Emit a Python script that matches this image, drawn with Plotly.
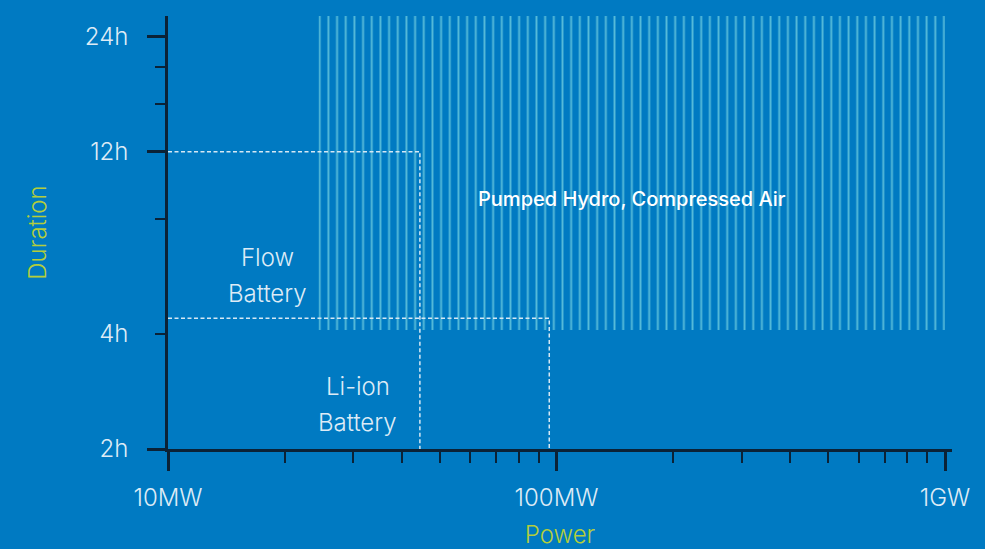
import plotly.graph_objects as go
import math

# ---- data ----
power_major_vals = [10, 100, 1000]
power_major_text = ["10MW", "100MW", "1GW"]
power_minor_vals = [20, 30, 40, 50, 60, 70, 80, 90, 200, 300, 400, 500, 600, 700, 800, 900]

dur_label_vals = [2, 4, 12, 24]
dur_label_text = ["2h", "4h", "12h", "24h"]
dur_long_vals = [2, 12, 24]
dur_minor_vals = [8, 16, 20]

# technology regions (power MW, duration h)
flow_power = [10, 44.5, 44.5]
flow_dur = [12, 12, 2]
liion_power = [10, 95.8, 95.8]
liion_dur = [4.4, 4.4, 2]
hydro_power = [24.4, 1000, 1000, 24.4, 24.4]
hydro_dur = [4.1, 4.1, 27.2, 27.2, 4.1]

labels = [
    ("Flow", 18, 6.36),
    ("Battery", 18, 5.12),
    ("Li-ion", 30.8, 2.92),
    ("Battery", 30.8, 2.34),
]
hydro_label = ("Pumped Hydro, Compressed Air", 156, 9.03)

x_range = [1, 3.018]
y_range = [math.log10(2), 1.4346]

BG = "#007AC2"
AXC = "#0B2236"
TXT = "#DDEBF6"
TITLE = "#B4CE3B"
HATCH = "#56BBD9"
DASH = "#D5E8F4"
FONT = "Inter"

fig = go.Figure()

fig.add_trace(go.Scatter(
    x=hydro_power, y=hydro_dur, mode="none", fill="toself",
    fillcolor="rgba(0,0,0,0)",
    fillpattern=dict(shape="|", size=8.67, solidity=0.22, fgcolor=HATCH,
                     bgcolor="rgba(0,0,0,0)", fgopacity=1),
    hoverinfo="skip", showlegend=False))

dash_line = dict(color=DASH, width=1.5, dash="4px,2.5px")
fig.add_trace(go.Scatter(x=flow_power, y=flow_dur, mode="lines", line=dash_line,
                         showlegend=False, hoverinfo="skip", yaxis="y2"))
fig.add_trace(go.Scatter(x=liion_power, y=liion_dur, mode="lines", line=dash_line,
                         showlegend=False, hoverinfo="skip", yaxis="y2"))

for text, px_, d in labels:
    fig.add_annotation(x=math.log10(px_), y=math.log10(d), text=text, showarrow=False,
                       font=dict(family=FONT, size=24, color=TXT, weight=300),
                       xanchor="center", yanchor="middle")
fig.add_annotation(x=math.log10(hydro_label[1]), y=math.log10(hydro_label[2]),
                   text=hydro_label[0], showarrow=False,
                   font=dict(family=FONT, size=20, color="#FFFFFF", weight=500),
                   xanchor="center", yanchor="middle")

fig.update_layout(
    width=985, height=549,
    margin=dict(l=168, r=33, t=16, b=100, autoexpand=False),
    paper_bgcolor=BG, plot_bgcolor=BG,
    showlegend=False,
    xaxis=dict(
        type="log", range=x_range, showgrid=False, zeroline=False, automargin=False,
        showline=True, linecolor=AXC, linewidth=2.5,
        tickmode="array", tickvals=power_major_vals, ticktext=power_major_text,
        ticks="outside", ticklen=19, tickwidth=2.5, tickcolor=AXC,
        tickfont=dict(family=FONT, size=24, color=TXT, weight=300),
        ticklabelstandoff=6,
        minor=dict(tickmode="array", tickvals=power_minor_vals, ticks="outside",
                   ticklen=11, tickwidth=2, tickcolor=AXC, showgrid=False),
        title=dict(text="Power", font=dict(family=FONT, size=24, color=TITLE, weight=300),
                   standoff=32),
    ),
    yaxis=dict(
        type="log", range=y_range, showgrid=False, zeroline=False, automargin=False,
        showline=True, linecolor=AXC, linewidth=2.5,
        tickmode="array", tickvals=dur_label_vals, ticktext=dur_label_text,
        ticks="outside", ticklen=10, tickwidth=2, tickcolor=AXC,
        tickfont=dict(family=FONT, size=24, color=TXT, weight=300),
        ticklabelstandoff=22,
        minor=dict(tickmode="array", tickvals=dur_minor_vals, ticks="outside",
                   ticklen=10, tickwidth=2, tickcolor=AXC, showgrid=False),
        title=dict(text="Duration", font=dict(family=FONT, size=24, color=TITLE, weight=300),
                   standoff=32),
    ),
    yaxis2=dict(
        type="log", range=y_range, overlaying="y", side="left", anchor="x",
        showgrid=False, zeroline=False, showline=False, automargin=False,
        tickmode="array", tickvals=dur_long_vals, showticklabels=False,
        ticks="outside", ticklen=20, tickwidth=2.5, tickcolor=AXC,
    ),
)

fig.write_html(
    "out.html",
    config={"displayModeBar": False},
    post_script="document.body.style.margin='0';document.body.style.padding='0';"
                "document.body.style.overflow='hidden';document.body.style.background='" + BG + "';",
)
